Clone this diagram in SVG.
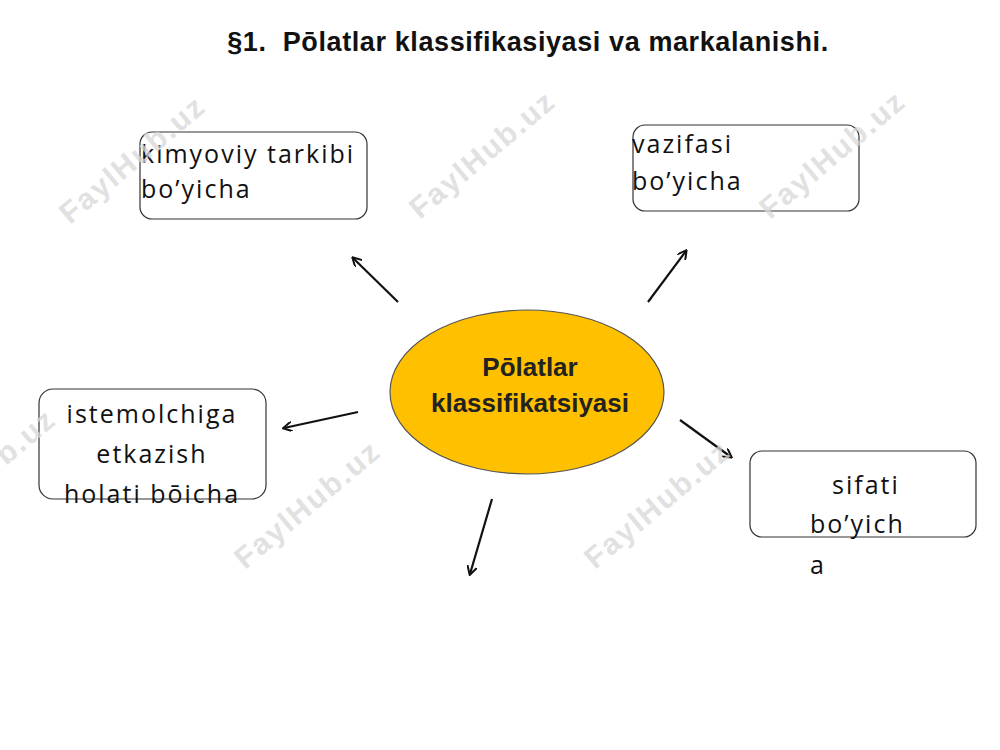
<svg xmlns="http://www.w3.org/2000/svg" width="1000" height="750" viewBox="0 0 1000 750">
<style>
.box{fill:#fff;stroke:#333;stroke-width:1.2}
.t{font-family:"Open Sans","Noto Sans",sans-serif;font-size:25px;fill:#111;letter-spacing:2px}
.c{font-family:"Liberation Sans",Arial,sans-serif;font-weight:bold;font-size:26px;fill:#222;text-anchor:middle}
.w{font-family:"Liberation Sans",Arial,sans-serif;font-weight:bold;font-size:30px;fill:#d8d8d8;opacity:0.75;letter-spacing:2px}
.a{stroke:#111;stroke-width:2.2;fill:none;marker-end:url(#ah)}
</style>
<defs><marker id="ah" markerWidth="10" markerHeight="10" refX="8" refY="5" orient="auto" markerUnits="userSpaceOnUse"><path d="M0,0 L9,5 L0,10" fill="none" stroke="#111" stroke-width="2"/></marker></defs>
<rect width="1000" height="750" fill="#fff"/>
<text x="528" y="51" font-family="Liberation Sans,Arial,sans-serif" font-weight="bold" font-size="27" letter-spacing="0.6" text-anchor="middle" fill="#111" xml:space="preserve">§1.  Pōlatlar klassifikasiyasi va markalanishi.</text>
<g id="connectors">
<line class="a" x1="398" y1="302" x2="353" y2="258"/>
<line class="a" x1="648" y1="302" x2="686" y2="251"/>
<line class="a" x1="358" y1="412" x2="284" y2="428"/>
<line class="a" x1="680" y1="420" x2="731" y2="457"/>
<line class="a" x1="492" y1="499" x2="470" y2="574"/>
</g>
<g id="center"><ellipse cx="527" cy="392" rx="137" ry="82" fill="#FFC000" stroke="#555" stroke-width="1.2"/>
<text class="c" x="530" y="376">Pōlatlar</text><text class="c" x="530" y="412">klassifikatsiyasi</text></g>
<g id="n1"><rect class="box" x="140" y="132" width="227" height="87" rx="12"/><text class="t" x="141" y="163" letter-spacing="1.6">kimyoviy tarkibi</text><text class="t" x="141" y="198">bo’yicha</text></g>
<g id="n2"><rect class="box" x="633" y="125" width="226" height="86" rx="12"/><text class="t" x="632" y="153">vazifasi</text><text class="t" x="632" y="190">bo’yicha</text></g>
<g id="n3"><rect class="box" x="39" y="389" width="227" height="110" rx="14"/><text class="t" x="152" y="423" text-anchor="middle" letter-spacing="0">istemolchiga</text><text class="t" x="152" y="463" text-anchor="middle" letter-spacing="0">etkazish</text><text class="t" x="152" y="503" text-anchor="middle" letter-spacing="0">holati bōicha</text></g>
<g id="n4"><rect class="box" x="750" y="451" width="226" height="86" rx="12"/><text class="t" x="832" y="494" letter-spacing="0">sifati</text><text class="t" x="810" y="533" letter-spacing="0">bo’yich</text><text class="t" x="810" y="574">a</text></g>
<g id="watermarks">
<text class="w" transform="translate(70,225) rotate(-40)">FaylHub.uz</text>
<text class="w" transform="translate(420,220) rotate(-40)">FaylHub.uz</text>
<text class="w" transform="translate(770,220) rotate(-40)">FaylHub.uz</text>
<text class="w" transform="translate(6,466) rotate(-40)">b.uz</text>
<text class="w" transform="translate(245,570) rotate(-40)">FaylHub.uz</text>
<text class="w" transform="translate(595,570) rotate(-40)">FaylHub.uz</text>
</g>
</svg>
